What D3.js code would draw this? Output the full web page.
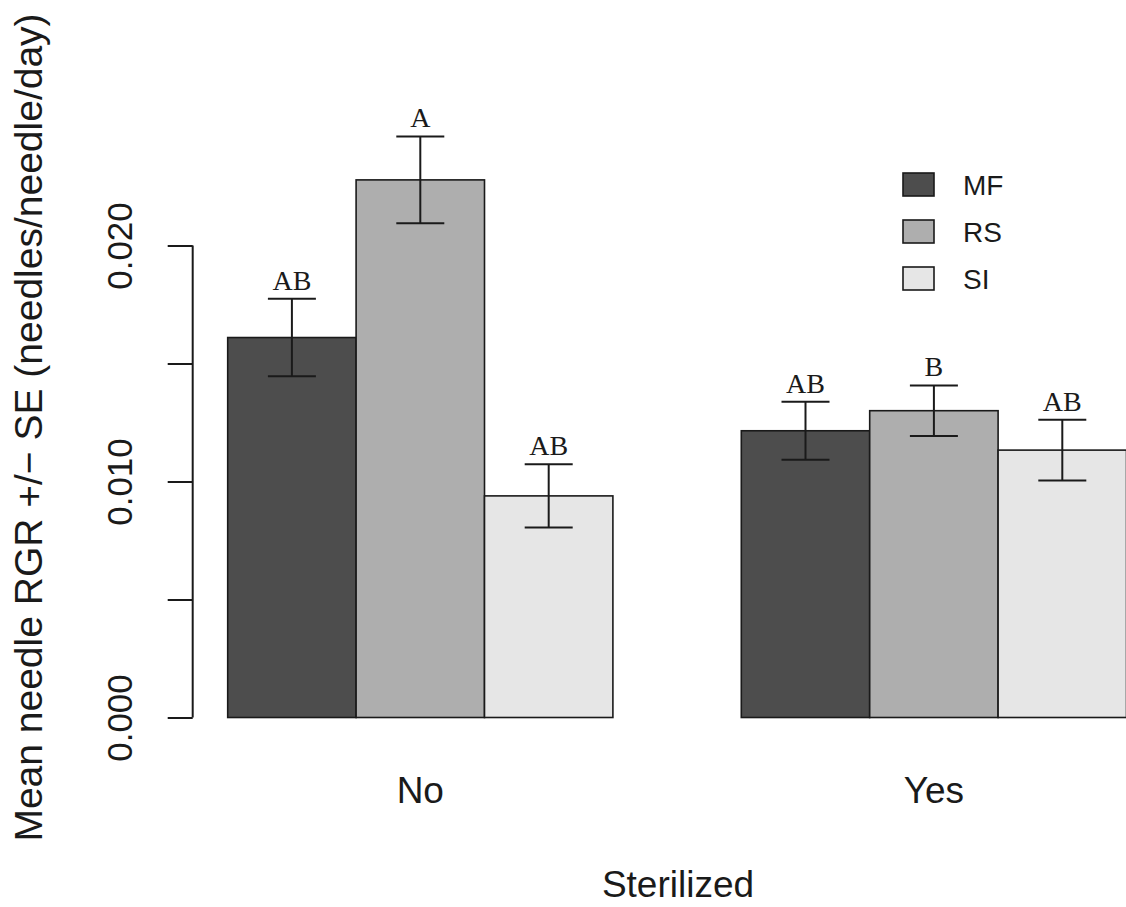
<!DOCTYPE html>
<html>
<head>
<meta charset="utf-8">
<script src="https://cdn.jsdelivr.net/npm/d3@7"></script>
<style>
  html, body { margin: 0; padding: 0; background: #fff; }
  svg { display: block; }
</style>
</head>
<body>
<svg id="chart" width="1126" height="907"></svg>
<script>
// ---- data ----
const groups = ["No", "Yes"];
const series = ["MF", "RS", "SI"];
const meansNo = [0.0161, 0.02278, 0.00939];
const meansYes = [0.01215, 0.01300, 0.01133];
const seNo = [0.00164, 0.00184, 0.00134];
const seYes = [0.00123, 0.00107, 0.00129];
const lettersNo = ["AB", "A", "AB"];
const lettersYes = ["AB", "B", "AB"];
const yTicks = [0, 0.005, 0.010, 0.015, 0.020];
const yTickLabels = ["0.000", "", "0.010", "", "0.020"];
const seriesColors = ["#4d4d4d", "#aeaeae", "#e6e6e6"];

const table = [];
groups.forEach((g, gi) => {
  const m = gi === 0 ? meansNo : meansYes;
  const s = gi === 0 ? seNo : seYes;
  const l = gi === 0 ? lettersNo : lettersYes;
  series.forEach((k, si) => table.push({ group: g, key: k, mean: m[si], se: s[si], letter: l[si] }));
});

const svg = d3.select("#chart");
const sans = "'Liberation Sans', Arial, Helvetica, sans-serif";
const serif = "'Liberation Serif', 'Times New Roman', serif";
const ink = "#1a1a1a";

const x0 = d3.scaleBand().domain(groups).range([227.7, 1126.5]).paddingInner(0.25).paddingOuter(0);
const x1 = d3.scaleBand().domain(series).range([0, x0.bandwidth()]).padding(0);
const y = d3.scaleLinear().domain([0, 0.02]).range([717.5, 245.5]);
const color = d3.scaleOrdinal().domain(series).range(seriesColors);

// bars
const bars = svg.append("g");
bars.selectAll("rect").data(table).join("rect")
  .attr("x", d => x0(d.group) + x1(d.key))
  .attr("y", d => y(d.mean))
  .attr("width", x1.bandwidth())
  .attr("height", d => y(0) - y(d.mean))
  .attr("fill", d => color(d.key))
  .attr("stroke", ink)
  .attr("stroke-width", 1.6);

// error bars
const capHalf = 24;
const eb = svg.append("g").attr("stroke", ink).attr("stroke-width", 2).attr("fill", "none");
table.forEach(d => {
  const cx = x0(d.group) + x1(d.key) + x1.bandwidth() / 2;
  const yt = y(d.mean + d.se), yb = y(d.mean - d.se);
  eb.append("line").attr("x1", cx).attr("x2", cx).attr("y1", yt).attr("y2", yb);
  eb.append("line").attr("x1", cx - capHalf).attr("x2", cx + capHalf).attr("y1", yt).attr("y2", yt);
  eb.append("line").attr("x1", cx - capHalf).attr("x2", cx + capHalf).attr("y1", yb).attr("y2", yb);
});

// letters
svg.append("g").selectAll("text").data(table).join("text")
  .attr("x", d => x0(d.group) + x1(d.key) + x1.bandwidth() / 2)
  .attr("y", d => y(d.mean + d.se) - 9)
  .attr("text-anchor", "middle")
  .attr("font-family", serif)
  .attr("font-size", 28)
  .attr("fill", ink)
  .text(d => d.letter);

// y axis
const yAxis = d3.axisLeft(y).tickValues(yTicks).tickSize(25)
  .tickFormat((d, i) => yTickLabels[i]);
const ya = svg.append("g").attr("transform", "translate(192.7,0)").call(yAxis);
ya.select(".domain").remove();
ya.append("line").attr("x1", 0).attr("x2", 0).attr("y1", y(0)).attr("y2", y(0.02))
  .attr("stroke", ink).attr("stroke-width", 2);
ya.selectAll(".tick line").attr("stroke", ink).attr("stroke-width", 2);
ya.selectAll(".tick text")
  .attr("x", null).attr("dy", null)
  .attr("transform", "translate(-61,0) rotate(-90)")
  .attr("text-anchor", "middle")
  .attr("font-family", sans)
  .attr("font-size", 35)
  .attr("fill", ink);

// x group labels
const xAxis = d3.axisBottom(x0).tickSize(0);
const xa = svg.append("g").attr("transform", "translate(0,717.5)").call(xAxis);
xa.select(".domain").remove();
xa.selectAll(".tick text")
  .attr("y", 85).attr("dy", null)
  .attr("font-family", sans)
  .attr("font-size", 37)
  .attr("fill", ink);

// axis titles
svg.append("text")
  .attr("x", 678).attr("y", 896.7)
  .attr("text-anchor", "middle")
  .attr("font-family", sans).attr("font-size", 37).attr("fill", ink)
  .text("Sterilized");
svg.append("text")
  .attr("transform", "translate(42,427.5) rotate(-90)")
  .attr("text-anchor", "middle")
  .attr("font-family", sans).attr("font-size", 39).attr("fill", ink)
  .text("Mean needle RGR +/\u2212 SE (needles/needle/day)");

// legend
const lg = svg.append("g").attr("transform", "translate(903,173)");
series.forEach((k, i) => {
  const row = lg.append("g").attr("transform", `translate(0,${i * 47})`);
  row.append("rect").attr("width", 31).attr("height", 23)
    .attr("fill", color(k)).attr("stroke", ink).attr("stroke-width", 1.6);
  row.append("text").attr("x", 60).attr("y", 22)
    .attr("font-family", sans).attr("font-size", 28).attr("fill", ink)
    .text(k);
});
</script>
</body>
</html>
